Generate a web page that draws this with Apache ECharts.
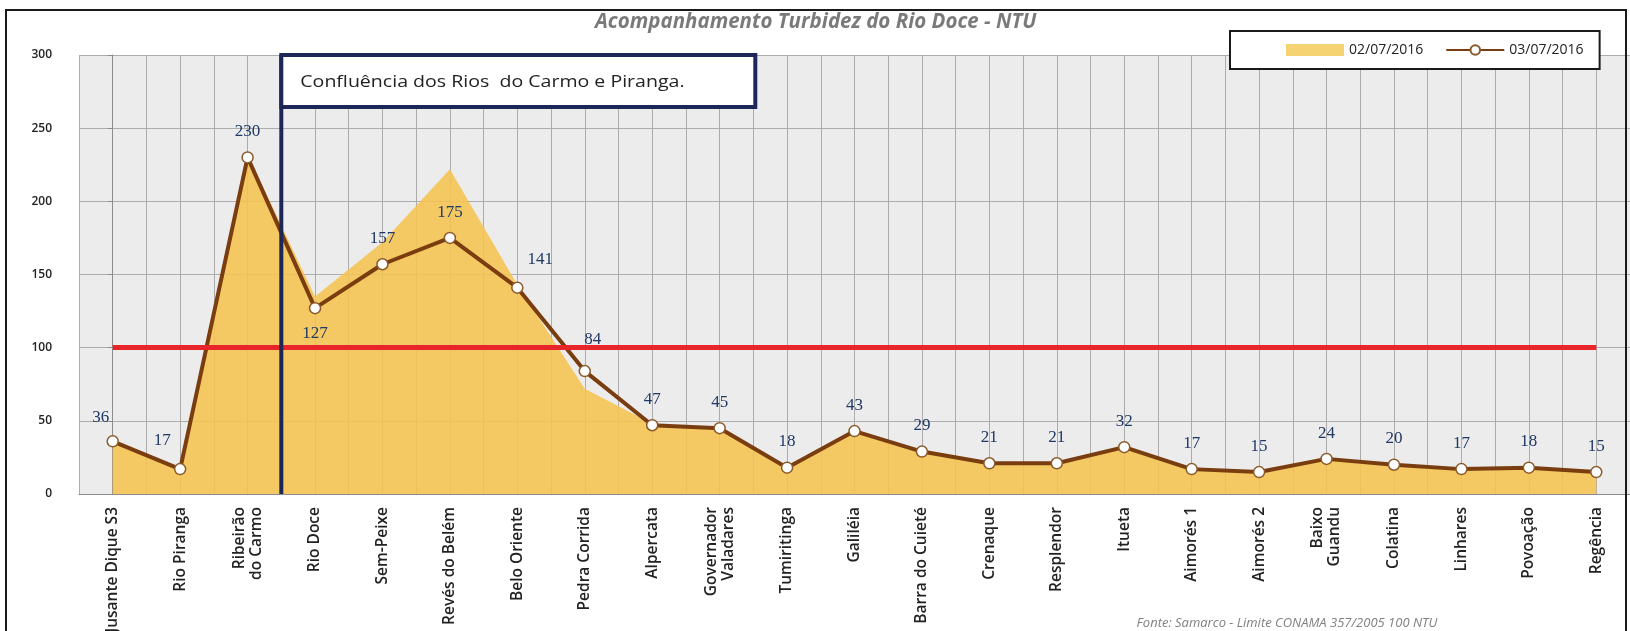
<!DOCTYPE html>
<html>
<head>
<meta charset="utf-8">
<title>Acompanhamento Turbidez do Rio Doce - NTU</title>
<script src="https://cdn.jsdelivr.net/npm/echarts@6/dist/echarts.min.js"></script>
<style>
  html, body { margin: 0; padding: 0; background: #fff; }
  #main { width: 1630px; height: 631px; }
</style>
</head>
<body>
<div id="main"></div>
<script>
// estações ao longo do Rio Doce
const stations = [
  'Jusante Dique S3', 'Rio Piranga', 'Ribeirão\ndo Carmo', 'Rio Doce', 'Sem-Peixe',
  'Revés do Belém', 'Belo Oriente', 'Pedra Corrida', 'Alpercata', 'Governador\nValadares',
  'Tumiritinga', 'Galiléia', 'Barra do Cuieté', 'Crenaque', 'Resplendor', 'Itueta',
  'Aimorés 1', 'Aimorés 2', 'Baixo\nGuandu', 'Colatina', 'Linhares', 'Povoação', 'Regência'
];
// turbidez NTU
const turb0207 = [35, 17, 232, 135, 172, 222, 143, 72, 48, 45, 19, 43, 30, 21, 22, 33, 17, 16, 24, 20, 18, 18, 16];
const turb0307 = [36, 17, 230, 127, 157, 175, 141, 84, 47, 45, 18, 43, 29, 21, 21, 32, 17, 15, 24, 20, 17, 18, 15];
const limitConama = 100;
const yMin = 0, yMax = 300, yStep = 50;
const confluenceAt = 2.5; // entre Ribeirão do Carmo e Rio Doce

// ajustes de rótulos
const labelTweaks = {
  0: { offset: [-12, 2] },
  1: { offset: [-18, -3] },
  3: { position: 'bottom' },
  6: { offset: [23, -2] },
  7: { offset: [8, -6] }
};

const navy = '#1c2757';
const chart = echarts.init(document.getElementById('main'));

chart.setOption({
  animation: false,
  backgroundColor: '#fff',
  title: {
    text: 'Acompanhamento Turbidez do Rio Doce - NTU',
    left: 590,
    top: 7,
    textStyle: { fontFamily: 'Open Sans', fontStyle: 'italic', fontWeight: 'bold', fontSize: 20.5, color: '#7a7a7a' }
  },
  legend: {
    left: 1230,
    top: 31,
    padding: [12, 16, 12, 56],
    backgroundColor: '#fff',
    borderColor: '#1a1a1a',
    borderWidth: 2,
    itemWidth: 58,
    itemHeight: 12,
    itemGap: 22,
    textStyle: { fontFamily: 'Open Sans', fontSize: 14, color: '#222' },
    data: [
      { name: '02/07/2016', icon: 'rect', itemStyle: { color: '#f5d372' } },
      { name: '03/07/2016' }
    ]
  },
  grid: {
    left: 79, right: 0, top: 55, bottom: 137,
    outerBoundsMode: 'none',
    show: true, backgroundColor: '#ececec', borderWidth: 0
  },
  xAxis: [{
    type: 'category',
    data: stations,
    boundaryGap: true,
    axisLine: { lineStyle: { color: '#8c8c8c' } },
    axisTick: { length: 6, lineStyle: { color: '#8c8c8c' } },
    axisLabel: {
      rotate: 90, margin: 13, interval: 0,
      fontFamily: 'Open Sans', fontSize: 15.5, fontWeight: 600, color: '#222', lineHeight: 17
    },
    splitLine: { show: false }
  }, {
    // só para as linhas verticais de grade (a cada meia estação)
    type: 'value',
    min: -0.5, max: 22.5, interval: 0.5,
    position: 'top',
    axisLine: { show: false }, axisTick: { show: false }, axisLabel: { show: false },
    splitLine: { show: true, lineStyle: { color: '#acacac', width: 1 } }
  }],
  yAxis: {
    type: 'value',
    min: yMin, max: yMax, interval: yStep,
    axisLine: { show: true, lineStyle: { color: '#8c8c8c' } },
    axisTick: { show: true, length: 5, lineStyle: { color: '#8c8c8c' } },
    axisLabel: { margin: 27, fontFamily: 'Open Sans', fontSize: 12, fontWeight: 600, color: '#222' },
    splitLine: { lineStyle: { color: '#acacac' } }
  },
  series: [{
    name: '02/07/2016',
    type: 'line',
    data: turb0207,
    symbol: 'none',
    lineStyle: { width: 0 },
    itemStyle: { color: '#f5d372' },
    areaStyle: { color: 'rgba(245,195,79,0.88)', opacity: 1 },
    z: 2,
    markLine: {
      silent: true,
      symbol: 'none',
      label: { show: false },
      lineStyle: { color: '#e8262a', width: 5, type: 'solid' },
      data: [[{ coord: [0, limitConama] }, { coord: [stations.length - 1, limitConama] }]]
    }
  }, {
    name: '03/07/2016',
    type: 'line',
    data: turb0307.map((v, i) => labelTweaks[i] ? { value: v, label: labelTweaks[i] } : v),
    symbol: 'circle',
    symbolSize: 11,
    lineStyle: { color: '#7a3d10', width: 4 },
    itemStyle: { color: '#fff', borderColor: '#8a5a2a', borderWidth: 1.5 },
    label: {
      show: true, position: 'top', distance: 11,
      fontFamily: 'Liberation Serif', fontSize: 17, color: '#1f3864'
    },
    z: 4
  }]
});

// linha vertical da confluência e caixa de texto
const xc = chart.convertToPixel({ xAxisIndex: 1 }, confluenceAt);
const yTop = chart.convertToPixel({ yAxisIndex: 0 }, yMax);
const yBot = chart.convertToPixel({ yAxisIndex: 0 }, yMin);

chart.setOption({
  graphic: [
    { type: 'line', shape: { x1: xc, y1: yTop, x2: xc, y2: yBot }, style: { stroke: navy, lineWidth: 4 }, z: 10 },
    { type: 'rect', shape: { x: xc, y: yTop, width: 474, height: 52 }, style: { fill: '#fff', stroke: navy, lineWidth: 4 }, z: 10 },
    { type: 'text', x: xc + 19, y: yTop + 27, scaleX: 1.15, style: { text: 'Confluência dos Rios  do Carmo e Piranga.', font: '17px "Open Sans"', fill: '#222', verticalAlign: 'middle' }, z: 11 },
    { type: 'rect', shape: { x: 6, y: 10, width: 1620, height: 640 }, style: { fill: 'none', stroke: '#1a1a1a', lineWidth: 2 }, z: 20 },
    { type: 'text', x: 1287, y: 623, style: { text: 'Fonte: Samarco - Limite CONAMA 357/2005 100 NTU', font: 'italic 13px "Open Sans"', fill: '#808080', align: 'center', verticalAlign: 'middle' }, z: 11 }
  ]
});
</script>
</body>
</html>
